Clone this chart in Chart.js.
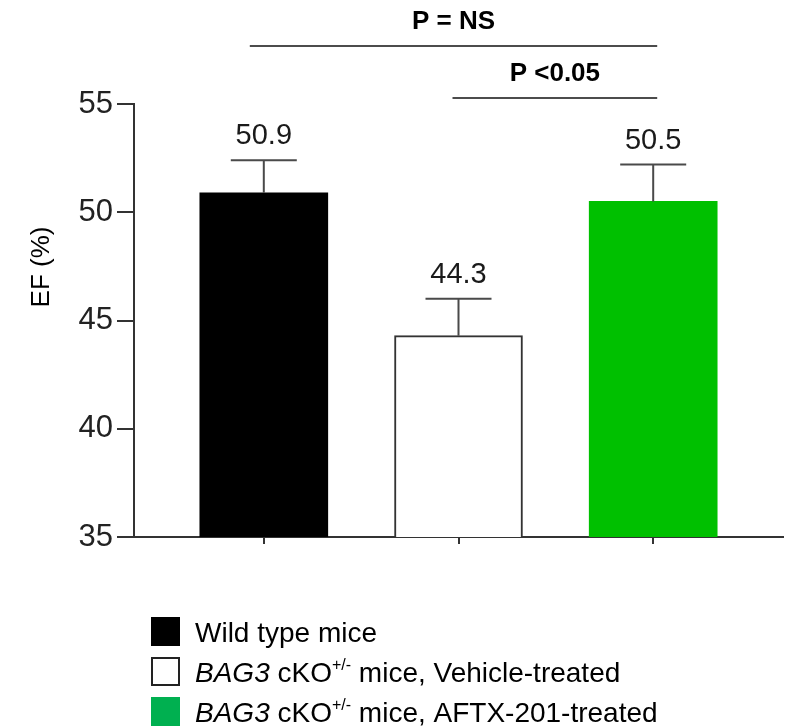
<!DOCTYPE html>
<html>
<head>
<meta charset="utf-8">
<script src="https://cdn.jsdelivr.net/npm/chart.js@4/dist/chart.umd.min.js"></script>
<style>
  body { margin: 0; background: #fff; }
  canvas { display: block; }
</style>
</head>
<body>
<canvas id="efChart" width="790" height="727"></canvas>
<script>
var groups = ['Wild type mice', 'BAG3 cKO+/- mice, Vehicle-treated', 'BAG3 cKO+/- mice, AFTX-201-treated'];
var efValues = [50.9, 44.3, 50.5];
var efErrors = [1.5, 1.7, 1.7];
var yTicks = [35, 40, 45, 50, 55];
var barColors = ['#000000', '#ffffff', '#00c000'];
var legendColors = ['#000000', '#ffffff', '#00b050'];
// legend pieces: [italic part, plain part, superscript, rest]
var legendParts = [
    ['', 'Wild type mice', '', ''],
    ['BAG3', ' cKO', '+/-', ' mice, Vehicle-treated'],
    ['BAG3', ' cKO', '+/-', ' mice, AFTX-201-treated']
];
var brackets = [
    { from: 0, to: 2, label: 'P = NS' },
    { from: 1, to: 2, label: 'P <0.05' }
];

var FONT = '"Liberation Sans", Arial, sans-serif';
var AXIS = '#333333';

var extrasPlugin = {
    id: 'extras',
    afterDatasetsDraw: function (chart) {
        var ctx = chart.ctx;
        var ys = chart.scales.y;
        var meta = chart.getDatasetMeta(0);
        ctx.save();
        // error bars (upper only) and value labels
        meta.data.forEach(function (bar, i) {
            var x = bar.x;
            var top = ys.getPixelForValue(efValues[i]);
            var cap = ys.getPixelForValue(efValues[i] + efErrors[i]);
            ctx.strokeStyle = '#4a4a4a';
            ctx.lineWidth = 2;
            ctx.beginPath();
            ctx.moveTo(x, top);
            ctx.lineTo(x, cap);
            ctx.moveTo(x - 33, cap);
            ctx.lineTo(x + 33, cap);
            ctx.stroke();
            ctx.fillStyle = '#1a1a1a';
            ctx.font = '29px ' + FONT;
            ctx.textAlign = 'center';
            ctx.textBaseline = 'alphabetic';
            ctx.fillText(efValues[i].toFixed(1), x, cap - 16);
        });
        ctx.restore();
    },
    afterDraw: function (chart) {
        var ctx = chart.ctx;
        var xs = chart.scales.x;
        var area = chart.chartArea;
        ctx.save();
        // significance brackets
        var lineY = [area.top - 58, area.top - 6];
        brackets.forEach(function (b, k) {
            var x1 = xs.getPixelForValue(b.from) - (k === 0 ? 14 : 6);
            var x2 = xs.getPixelForValue(b.to) + 4;
            ctx.strokeStyle = '#111';
            ctx.lineWidth = 1.5;
            ctx.beginPath();
            ctx.moveTo(x1, lineY[k]);
            ctx.lineTo(x2, lineY[k]);
            ctx.stroke();
            ctx.fillStyle = '#000';
            ctx.font = 'bold 26px ' + FONT;
            ctx.textAlign = 'center';
            ctx.textBaseline = 'middle';
            ctx.fillText(b.label, (x1 + x2) / 2, lineY[k] - 24);
        });

        // y-axis title
        ctx.save();
        ctx.translate(42, 267);
        ctx.rotate(-Math.PI / 2);
        ctx.fillStyle = '#000';
        ctx.font = '26px ' + FONT;
        ctx.textAlign = 'center';
        ctx.textBaseline = 'middle';
        ctx.fillText('EF (%)', 0, 0);
        ctx.restore();

        // legend
        var lx = 151, ly = 617, size = 29, gap = 40;
        legendParts.forEach(function (p, i) {
            var y = ly + i * gap;
            ctx.fillStyle = legendColors[i];
            ctx.fillRect(lx, y, size, size);
            if (i === 1) {
                ctx.strokeStyle = '#222';
                ctx.lineWidth = 2;
                ctx.strokeRect(lx + 1, y + 1, size - 2, size - 2);
            }
            var tx = 195;
            var base = y + size / 2 + 10;
            ctx.fillStyle = '#000';
            ctx.textAlign = 'left';
            ctx.textBaseline = 'alphabetic';
            if (p[0]) {
                ctx.font = 'italic 28px ' + FONT;
                ctx.fillText(p[0], tx, base);
                tx += ctx.measureText(p[0]).width;
            }
            ctx.font = '28px ' + FONT;
            ctx.fillText(p[1], tx, base);
            tx += ctx.measureText(p[1]).width;
            if (p[2]) {
                ctx.font = '16px ' + FONT;
                ctx.fillText(p[2], tx, base - 12);
                tx += ctx.measureText(p[2]).width;
            }
            if (p[3]) {
                ctx.font = '28px ' + FONT;
                ctx.fillText(p[3], tx, base);
            }
        });
        ctx.restore();
    }
};

var ctx = document.getElementById('efChart').getContext('2d');
var efChart = new Chart(ctx, {
    type: 'bar',
    data: {
        labels: groups,
        datasets: [{
            label: 'EF (%)',
            data: efValues.map(function (v, i) { return { x: i, y: v }; }),
            backgroundColor: barColors,
            borderColor: ['#000000', '#333333', '#00c000'],
            borderWidth: [0, 2, 0],
            borderSkipped: 'bottom',
            barThickness: 128
        }]
    },
    options: {
        responsive: false,
        animation: false,
        layout: { padding: { top: 104, right: 7, left: 0, bottom: 0 } },
        plugins: {
            legend: { display: false },
            tooltip: { enabled: false }
        },
        scales: {
            x: {
                type: 'linear',
                min: -2 / 3,
                max: 8 / 3,
                offset: false,
                afterBuildTicks: function (scale) {
                    scale.ticks = groups.map(function (g, i) { return { value: i }; });
                },
                afterFit: function (scale) { scale.height = 727 - 537; },
                ticks: { callback: function () { return ''; } },
                grid: {
                    offset: false,
                    drawOnChartArea: false,
                    drawTicks: true,
                    tickLength: 7,
                    color: AXIS,
                    lineWidth: 2
                },
                border: { display: true, color: AXIS, width: 2 }
            },
            y: {
                min: 35,
                max: 55,
                afterBuildTicks: function (scale) {
                    scale.ticks = yTicks.map(function (v) { return { value: v }; });
                },
                afterFit: function (scale) { scale.width = 134; },
                ticks: {
                    color: '#222',
                    font: { family: FONT, size: 31 },
                    padding: 4
                },
                grid: {
                    drawOnChartArea: false,
                    tickLength: 17,
                    color: AXIS,
                    lineWidth: 2
                },
                border: { display: true, color: AXIS, width: 2 }
            }
        }
    },
    plugins: [extrasPlugin]
});
</script>
</body>
</html>
